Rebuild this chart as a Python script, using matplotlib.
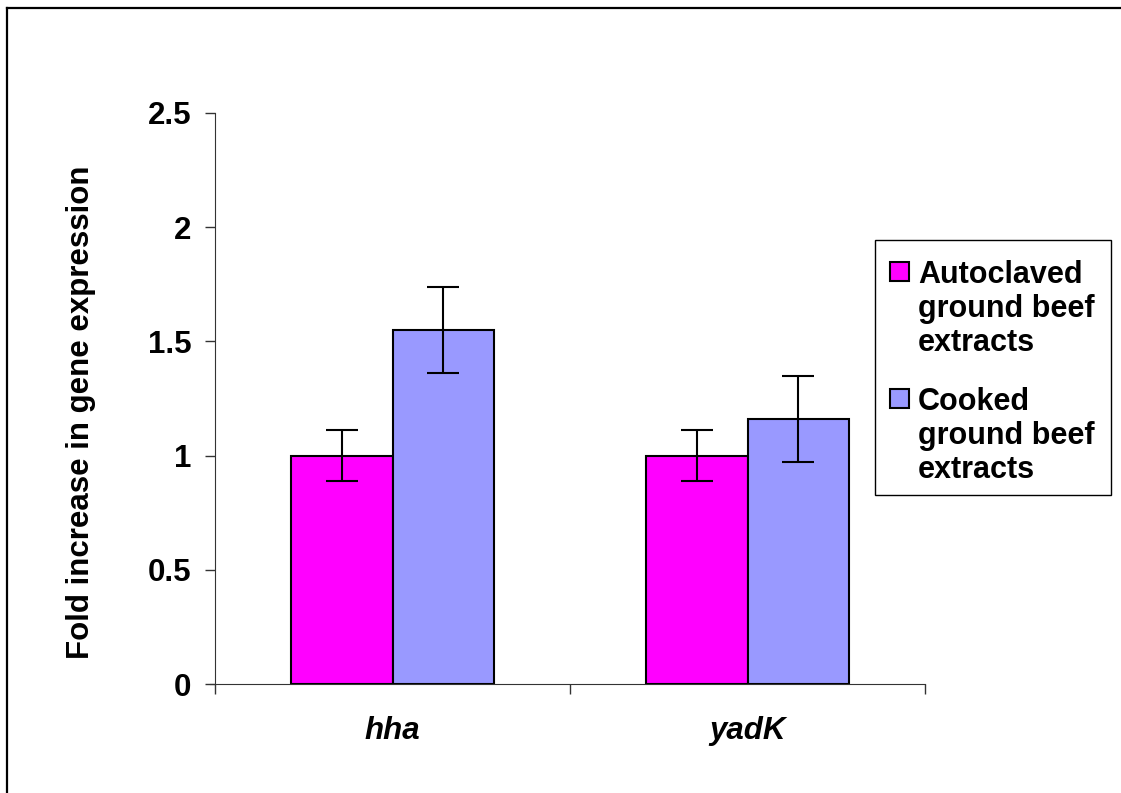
import numpy as np
import matplotlib.pyplot as plt
from matplotlib.lines import Line2D
from matplotlib.patches import Rectangle

plt.rcParams['font.family'] = ['Liberation Sans', 'DejaVu Sans']
plt.rcParams['font.weight'] = 'bold'

genes = ['hha', 'yadK']
series = ['Autoclaved\nground beef\nextracts', 'Cooked\nground beef\nextracts']
autoclaved = [1.0, 1.0]
autoclaved_err = [0.11, 0.11]
cooked = [1.55, 1.16]
cooked_err = [0.19, 0.19]
colors = ['#ff00ff', '#9999ff']

W, H = 1121, 793
fig = plt.figure(figsize=(W / 100, H / 100), dpi=100)


def px(x, y):
    # pixel position (from top-left) -> figure fraction
    return x / W, 1 - y / H


# outer frame (only top and left edges fall inside the image)
fig.add_artist(Line2D([7 / W, 7 / W], [0, 1 - 8 / H], transform=fig.transFigure, color='black', lw=1.6))
fig.add_artist(Line2D([7 / W, 1], [1 - 8 / H, 1 - 8 / H], transform=fig.transFigure, color='black', lw=1.6))

ax = fig.add_axes([215 / W, (H - 684) / H, (925 - 215) / W, (684 - 113) / H])

x = np.arange(len(genes)) + 0.5
bw = 0.286
err_kw = dict(ecolor='black', elinewidth=1.5, capsize=11.5, capthick=1.5)
ax.bar(x - bw / 2, autoclaved, bw, yerr=autoclaved_err, color=colors[0],
       edgecolor='black', linewidth=1.5, error_kw=err_kw)
ax.bar(x + bw / 2, cooked, bw, yerr=cooked_err, color=colors[1],
       edgecolor='black', linewidth=1.5, error_kw=err_kw)

fs = 22.5
ax.set_xlim(0, 2)
ax.set_ylim(0, 2.5)
ax.set_yticks([0, 0.5, 1, 1.5, 2, 2.5])
ax.set_yticklabels(['0', '0.5', '1', '1.5', '2', '2.5'], fontsize=fs, fontweight='bold')
ax.set_xticks([0, 1, 2])
ax.set_xticklabels([])
ax.set_xticks(x, minor=True)
ax.set_xticklabels(genes, minor=True, fontsize=fs, fontweight='bold', style='italic')
ax.tick_params(axis='x', which='minor', length=0, pad=23)
ax.tick_params(axis='x', which='major', direction='out', length=7, width=1, color='#333333')
ax.tick_params(axis='y', direction='out', length=7, width=1, color='#333333', pad=10)

for s in ['top', 'right']:
    ax.spines[s].set_visible(False)
ax.spines['left'].set_color('#333333')
ax.spines['bottom'].set_color('#333333')
ax.spines['bottom'].set_bounds(-0.014, 2)

fig.text(*px(81, 412), 'Fold increase in gene expression', rotation=90,
         ha='center', va='center', fontsize=fs, fontweight='bold')

# legend box drawn by hand so the swatch sits beside the first line
fig.add_artist(Rectangle(px(875, 495), 236 / W, 255 / H, transform=fig.transFigure,
                         facecolor='white', edgecolor='black', linewidth=1))
for i, (lab, c) in enumerate(zip(series, colors)):
    y0 = 281 + i * 127
    fig.add_artist(Rectangle(px(890, y0), 19 / W, 19 / H, transform=fig.transFigure,
                             facecolor=c, edgecolor='black', linewidth=1.5))
    # anchor on the baseline of the last line
    fig.text(*px(918, y0 + 70), lab, ha='left', va='baseline', fontsize=22,
             fontweight='bold', linespacing=1.17)

fig.savefig('out.png', dpi=100)
